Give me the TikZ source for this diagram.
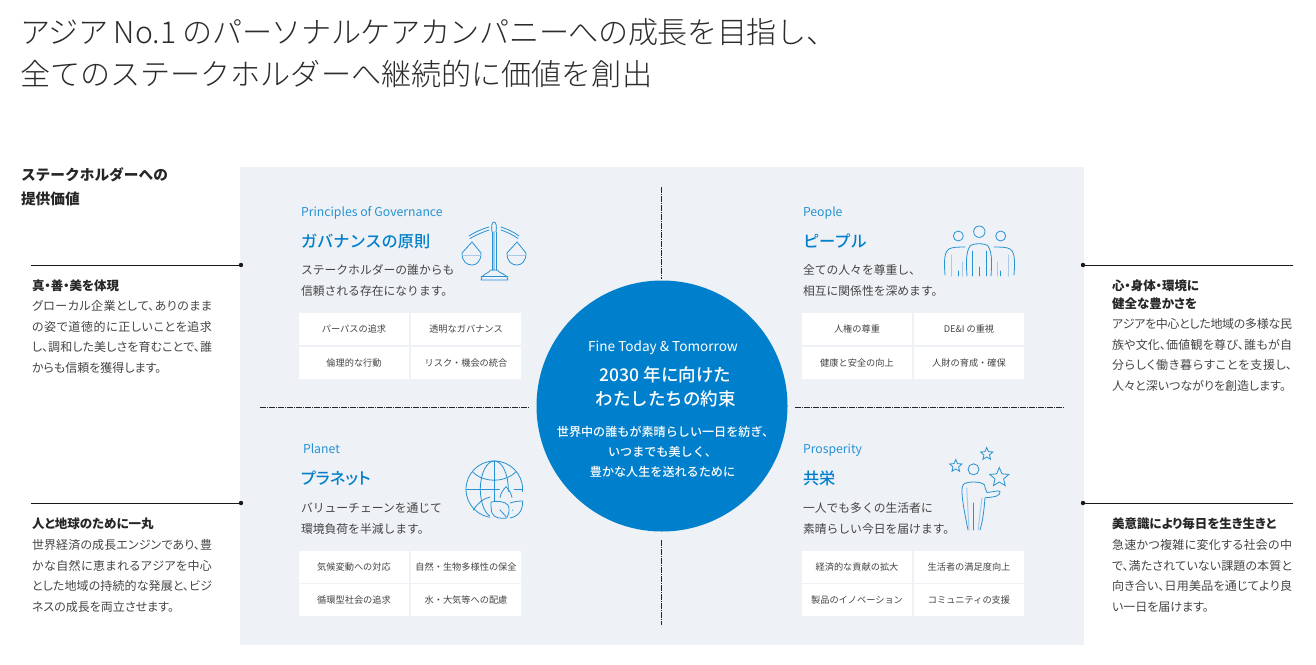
\documentclass[tikz,border=0pt]{standalone}
\usepackage{fontspec}
\usepackage{xcolor}
\usetikzlibrary{shapes.geometric}
\setmainfont{Noto Sans CJK JP}
\newfontfamily\lightjp{Noto Sans CJK JP Light}
\newfontfamily\mediumjp{Noto Sans CJK JP Medium}
\XeTeXlinebreaklocale "ja"
\XeTeXlinebreakskip=0pt plus 1pt minus 1pt
\definecolor{panelgray}{HTML}{EEF1F5}
\definecolor{kaoblue}{HTML}{0080CC}
\definecolor{iconpale}{HTML}{A9C9E8}
\definecolor{bodyink}{HTML}{444444}
\definecolor{titleink}{HTML}{2B2B2B}

\newcommand{\fs}[2]{\fontsize{#1}{#2}\selectfont}
\newcommand{\palt}{\addfontfeature{RawFeature=+palt}}

\begin{document}
\begin{tikzpicture}[
  x=1pt, y=-1pt,
  every node/.style={inner sep=0pt, outer sep=0pt},
  pagetitle/.style={anchor=west, text=titleink, font=\lightjp\fs{30.1}{42}, align=left},
  sidehead/.style={anchor=west, text=black!85, font=\bfseries\fs{14.7}{24.5}, align=left},
  sidetext/.style={anchor=north west, text=bodyink, text width=180pt, align=justify, font=\palt\fs{12}{20.9}},
  sidebold/.style={anchor=north west, text=black!85, font=\bfseries\palt\fs{12.5}{18}, align=left},
  eng/.style={anchor=base west, text=kaoblue!85, font=\fs{12.25}{14}},
  head/.style={anchor=west, text=kaoblue, font=\mediumjp\fs{16.2}{20}},
  desc/.style={anchor=north west, text=bodyink, font=\fs{11.8}{21}, align=left},
  cell/.style={fill=white, minimum width=110pt, minimum height=32pt, text=bodyink, font=\fs{9.2}{12}, text height=8.5pt, text depth=1.5pt},
  sideline/.style={line width=0.8pt, black!90},
  axis/.style={line width=0.7pt, black!85, dash pattern=on 6pt off 1pt on 1pt off 1pt},
  dot/.style={circle, fill=black!90, minimum size=4.4pt},
  iconline/.style={line width=0.8pt, kaoblue!85, line cap=round, line join=round},
  iconpaleline/.style={line width=1pt, iconpale, line cap=round},
  starmark/.style={star, star points=5, star point ratio=2.2, draw=kaoblue!85, line width=0.8pt},
]
  \useasboundingbox (0,0) rectangle (1316,664);

  % title
  \node[pagetitle] (title1) at (20,32) {アジア\kern-2pt~No.1~{\addfontfeature{LetterSpace=-1.4}のパーソナルケアカンパニーへの成長を目指し、}};
  \node[pagetitle] (title2) at (20,74) {全てのステークホルダーへ継続的に価値を創出};
  \node[sidehead] (valuehead) at (21,186.5) {ステークホルダーへの\\提供価値};

  % panel and axes
  \node[fill=panelgray, minimum width=844pt, minimum height=478pt] (panel) at (662,406) {};
  \coordinate (axisN) at (661,187);
  \coordinate (axisNend) at (661,279);
  \coordinate (axisS) at (661,540);
  \coordinate (axisSend) at (661,625);
  \coordinate (axisW) at (260,407);
  \coordinate (axisWend) at (530,407);
  \coordinate (axisE) at (795,407);
  \coordinate (axisEend) at (1064,407);
  \draw[axis] (axisN) -- (axisNend);
  \draw[axis] (axisS) -- (axisSend);
  \draw[axis] (axisW) -- (axisWend);
  \draw[axis] (axisE) -- (axisEend);

  % center
  \node[circle, fill=kaoblue, minimum size=251pt] (promise) at (662,406) {};
  \node[text=white, font=\fs{13.6}{14}] (promise1) at (663,348) {Fine Today \& Tomorrow};
  \node[text=white, font=\mediumjp\fs{17.5}{24}, align=center] (promise2) at (665.5,387) {2030 年に向けた\\わたしたちの約束};
  \node[text=white, font=\mediumjp\fs{12.1}{20}, align=center] (promise3) at (662.5,452) {\hspace*{6pt}世界中の誰もが素晴らしい一日を紡ぎ、\\いつまでも美しく、\\豊かな人生を送れるために};

  % governance
  \node[eng] (govEng) at (301,216.5) {Principles of Governance};
  \node[head] (govHead) at (301,241) {ガバナンスの原則};
  \node[desc] (govDesc) at (301,265) {ステークホルダーの誰からも\\信頼される存在になります。};
  \node[cell] (gov1) at (354,329) {パーパスの追求};
  \node[cell] (gov2) at (466,329) {透明なガバナンス};
  \node[cell] (gov3) at (354,363) {倫理的な行動};
  \node[cell] (gov4) at (466,363) {リスク・機会の統合};

  % people
  \node[eng] (pplEng) at (803,216.5) {People};
  \node[head] (pplHead) at (803,241) {ピープル};
  \node[desc] (pplDesc) at (803,265) {全ての人々を尊重し、\\相互に関係性を深めます。};
  \node[cell] (ppl1) at (857,329) {人権の尊重};
  \node[cell] (ppl2) at (969,329) {DE\&I の重視};
  \node[cell] (ppl3) at (857,363) {健康と安全の向上};
  \node[cell] (ppl4) at (969,363) {人財の育成・確保};

  % planet
  \node[eng] (plaEng) at (303,453.5) {Planet};
  \node[head] (plaHead) at (301,478) {\palt プラネット};
  \node[desc] (plaDesc) at (301,502.5) {バリューチェーンを通じて\\環境負荷を半減します。};
  \node[cell] (pla1) at (354,567) {気候変動への対応};
  \node[cell] (pla2) at (466,567) {自然・生物多様性の保全};
  \node[cell] (pla3) at (354,600) {循環型社会の追求};
  \node[cell] (pla4) at (466,600) {水・大気等への配慮};

  % prosperity
  \node[eng] (proEng) at (803,453.5) {Prosperity};
  \node[head] (proHead) at (803,478) {共栄};
  \node[desc] (proDesc) at (803,502.5) {一人でも多くの生活者に\\素晴らしい今日を届けます。};
  \node[cell] (pro1) at (857,567) {経済的な貢献の拡大};
  \node[cell] (pro2) at (969,567) {生活者の満足度向上};
  \node[cell] (pro3) at (857,600) {製品のイノベーション};
  \node[cell] (pro4) at (969,600) {コミュニティの支援};

  % left and right values
  \node[dot] (dotA) at (241,265) {};
  \node[dot] (dotB) at (1083,265) {};
  \node[dot] (dotC) at (241,503) {};
  \node[dot] (dotD) at (1083,503) {};
  \coordinate (endA) at (31,265);
  \coordinate (endB) at (1293,265);
  \coordinate (endC) at (31,503);
  \coordinate (endD) at (1293,503);
  \draw[sideline] (endA) -- (dotA);
  \draw[sideline] (endB) -- (dotB);
  \draw[sideline] (endC) -- (dotC);
  \draw[sideline] (endD) -- (dotD);

  \node[sidebold] (leftHeadA) at (32,280) {真・善・美を体現};
  \node[sidetext] (leftTextA) at (32,300) {グローカル企業として、ありのまま\linebreak の姿で道徳的に正しいことを追求\linebreak し、調和した美しさを育むことで、誰\linebreak からも信頼を獲得します。};
  \node[sidebold] (rightHeadA) at (1112,280) {心・身体・環境に\\健全な豊かさを};
  \node[sidetext] (rightTextA) at (1112,318) {アジアを中心とした地域の多様な民\linebreak 族や文化、価値観を尊び、誰もが自\linebreak 分らしく働き暮らすことを支援し、\linebreak 人々と深いつながりを創造します。};
  \node[sidebold] (leftHeadB) at (32,518) {人と地球のために一丸};
  \node[sidetext] (leftTextB) at (32,539) {世界経済の成長エンジンであり、豊\linebreak かな自然に恵まれるアジアを中心\linebreak とした地域の持続的な発展と、ビジ\linebreak ネスの成長を両立させます。};
  \node[sidebold] (rightHeadB) at (1112,518) {美意識により毎日を生き生きと};
  \node[sidetext] (rightTextB) at (1112,539) {急速かつ複雑に変化する社会の中\linebreak で、満たされていない課題の本質と\linebreak 向き合い、日用美品を通じてより良\linebreak い一日を届けます。};

  % scales icon
  \draw[iconpaleline, line width=2pt] (494,232) -- (494,270);
  \draw[iconline] (492,232) -- (492,270) (496,232) -- (496,270);
  \draw[iconline] (492,232) .. controls (491,226) and (492,222) .. (494,222) .. controls (496,222) and (497,226) .. (496,232);
  \draw[iconline] (481,280) .. controls (481,274) and (488,274) .. (491,270) -- (497,270) .. controls (500,274) and (508,274) .. (508,280) -- cycle;
  \draw[iconline] (481,276) -- (508,276);
  \draw[iconline] (469,236) .. controls (475,232) and (482,229) .. (489,227) (470,238.5) .. controls (476,235) and (483,232) .. (489,230);
  \draw[iconline] (519,236) .. controls (514,232) and (507,229) .. (501,227) (518,238.5) .. controls (513,235) and (507,232) .. (501,230);
  \draw[iconline] (462,253) -- (472,242) -- (481,253) .. controls (481,262) and (476,265) .. (472,265) .. controls (467,265) and (462,262) .. (462,253);
  \draw[iconline] (507,253) -- (517,242) -- (526,253) .. controls (526,262) and (521,265) .. (517,265) .. controls (512,265) and (507,262) .. (507,253);
  \draw[iconpaleline] (463,255) -- (481,255) (508,255) -- (525,255);

  % people icon
  \draw[iconline] (979.3,231.7) circle (5.7);
  \draw[iconline] (958.3,236) circle (5);
  \draw[iconline] (1000.7,236) circle (5);
  \draw[iconline] (967,276) .. controls (966,262) and (966,252) .. (970,246) .. controls (973,243) and (985,243) .. (988,246) .. controls (992,252) and (992,262) .. (991,276);
  \draw[iconline] (945,275) .. controls (944,262) and (944,252) .. (949,249) .. controls (952,247) and (960,247) .. (965,247);
  \draw[iconline] (1014,275) .. controls (1015,262) and (1015,252) .. (1010,249) .. controls (1007,247) and (999,247) .. (994,247);
  \draw[iconline] (972.5,251) -- (972.5,276) (986,251) -- (986,276) (979.3,267) -- (979.3,276);
  \draw[iconline] (958,271) -- (958,276) (1000.5,271) -- (1000.5,276);
  \draw[iconpaleline] (951,255) -- (951,276) (1008,255) -- (1008,276) (962,262) -- (962,276) (997,262) -- (997,276);

  % globe icon
  \draw[iconline] (494.3,489.3) circle (28.3);
  \draw[iconline] (494.3,489.3) ellipse (14 and 28.3);
  \fill[panelgray] (499,492) rectangle (525,519);
  \fill[panelgray] (490,500.5) rectangle (499,519);
  \draw[iconline] (494.3,461) -- (494.3,501) (466,489.3) -- (499.3,489.3) (514,489.3) -- (522.6,489.3);
  \draw[iconline] (472.5,471.7) .. controls (483,483) and (505,483) .. (516,471.7);
  \draw[iconline] (473.3,510) .. controls (478,503) and (483,498.5) .. (490,497);
  \draw[iconline] (491,502) .. controls (497,500.5) and (505,501.5) .. (508,505) .. controls (510,509) and (509,514) .. (506.7,518) .. controls (501,519) and (494,518) .. (492,513) .. controls (491,510) and (491,506) .. (491,502);
  \draw[iconline] (510,503) .. controls (514,501.5) and (519,501) .. (522.7,501) .. controls (522.7,509) and (520,516) .. (510,518);
  \draw[iconline] (500,497.5) .. controls (501,492) and (504,489) .. (506,486.7) .. controls (508,489) and (511,492) .. (512,497.5);
  \draw[iconline] (500,510) -- (506,516.5) (512.3,510) -- (512.6,510.3);

  % person icon
  \draw[iconline] (973.5,469.3) circle (5.5);
  \draw[iconline] (968,530) .. controls (964,510) and (960,490) .. (963,485) .. controls (965,481) and (982,481) .. (984.5,485) .. controls (985,488) and (986,491) .. (987,492.5) .. controls (993,492) and (999,490) .. (1000,491.5) .. controls (1000,495) and (998,497) .. (985,497.7) .. controls (984,510) and (983,520) .. (980,530);
  \draw[iconline] (973.5,503) -- (973.5,530);
  \draw[iconpaleline] (966.7,488) -- (969,530) (982,498) -- (978,530);
  \node[starmark, minimum size=13pt] (starA) at (955.8,466) {};
  \node[starmark, minimum size=13pt] (starB) at (986.7,454) {};
  \node[starmark, minimum size=20pt] (starC) at (999.3,477.5) {};
\end{tikzpicture}
\end{document}
